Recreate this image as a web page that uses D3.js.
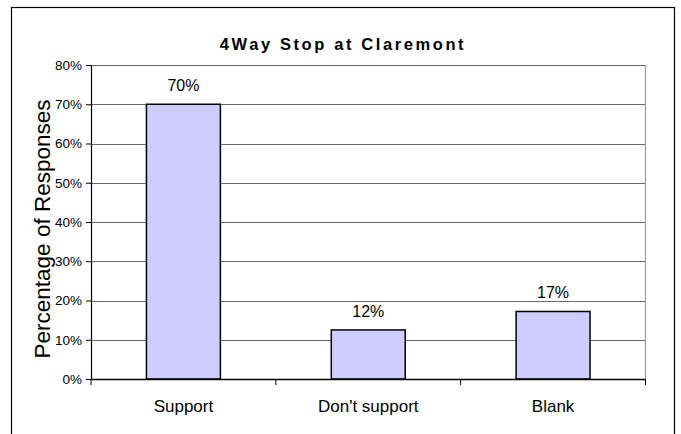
<!DOCTYPE html>
<html><head><meta charset="utf-8">
<script src="https://cdn.jsdelivr.net/npm/d3@7"></script>
<style>body{margin:0;background:#fff;} svg{display:block;font-family:"Liberation Sans",Arial,sans-serif;}</style>
</head><body>
<svg id="c" width="681" height="434"></svg>
<script>
const categories = ["Support", "Don't support", "Blank"];
const values = [0.70, 0.125, 0.172];
const valueLabels = ["70%", "12%", "17%"];
const yTicks = [0, 0.1, 0.2, 0.3, 0.4, 0.5, 0.6, 0.7, 0.8];
const title = "4Way Stop at Claremont";
const yTitle = "Percentage of Responses";

const svg = d3.select("#c");
const m = {left: 91, top: 65, right: 645.5, bottom: 379};

svg.append("rect").attr("x", 11.5).attr("y", 7.5).attr("width", 663).attr("height", 460)
  .attr("fill", "#fff").attr("stroke", "#000").attr("stroke-width", 1.2);

const x = d3.scaleBand().domain(categories).range([m.left, m.right]).paddingInner(0).paddingOuter(0);
const y = d3.scaleLinear().domain([0, 0.8]).range([m.bottom, m.top]);

// gridlines
svg.append("g").selectAll("line").data(yTicks.filter(d => d > 0)).join("line")
  .attr("x1", m.left).attr("x2", m.right)
  .attr("y1", d => Math.round(y(d)) + 0.5).attr("y2", d => Math.round(y(d)) + 0.5)
  .attr("stroke", "#6a6a6a").attr("stroke-width", 1.2);
// right border of plot
svg.append("line").attr("x1", m.right).attr("x2", m.right).attr("y1", m.top).attr("y2", m.bottom)
  .attr("stroke", "#9a9a9a").attr("stroke-width", 1.2);

// bars
const bw = x.bandwidth() * 0.4;
svg.append("g").selectAll("rect").data(values).join("rect")
  .attr("x", (d, i) => x(categories[i]) + x.bandwidth() / 2 - bw / 2)
  .attr("y", d => y(d))
  .attr("width", bw)
  .attr("height", d => y(0) - y(d))
  .attr("fill", "#ccccff").attr("stroke", "#000").attr("stroke-width", 1.5);

// data labels
svg.append("g").selectAll("text").data(values).join("text")
  .attr("x", (d, i) => x(categories[i]) + x.bandwidth() / 2)
  .attr("y", d => y(d) - 13)
  .attr("text-anchor", "middle").attr("font-size", 16).attr("fill", "#000")
  .text((d, i) => valueLabels[i]);

// y axis
const yAxis = d3.axisLeft(y).tickValues(yTicks).tickFormat(d3.format(".0%")).tickSize(5).tickPadding(4);
const gy = svg.append("g").attr("transform", `translate(${m.left},0)`).call(yAxis);
gy.select(".domain").attr("stroke", "#000").attr("stroke-width", 1.2);
gy.selectAll(".tick line").attr("stroke", "#000");
gy.selectAll("text").attr("font-size", 13.5).attr("font-family", "Liberation Sans, Arial, sans-serif").attr("fill", "#000");

// x axis
const xAxis = d3.axisBottom(x).tickSize(0).tickPadding(21);
const gx = svg.append("g").attr("transform", `translate(0,${m.bottom})`).call(xAxis);
gx.select(".domain").attr("stroke", "#000").attr("stroke-width", 1.5);
gx.selectAll("text").attr("font-size", 17).attr("font-family", "Liberation Sans, Arial, sans-serif").attr("fill", "#000");
// boundary ticks
const bounds = categories.map(c => x(c)).concat([m.right]);
svg.append("g").selectAll("line").data(bounds).join("line")
  .attr("x1", d => d).attr("x2", d => d).attr("y1", m.bottom).attr("y2", m.bottom + 6)
  .attr("stroke", "#000").attr("stroke-width", 1);

// title
svg.append("text").attr("x", 343).attr("y", 50).attr("text-anchor", "middle")
  .attr("font-size", 16.5).attr("font-weight", "bold").attr("letter-spacing", 2.6).text(title);

// y title
svg.append("text").attr("transform", "translate(50,229) rotate(-90)").attr("text-anchor", "middle")
  .attr("font-size", 22.5).text(yTitle);
</script>
</body></html>
